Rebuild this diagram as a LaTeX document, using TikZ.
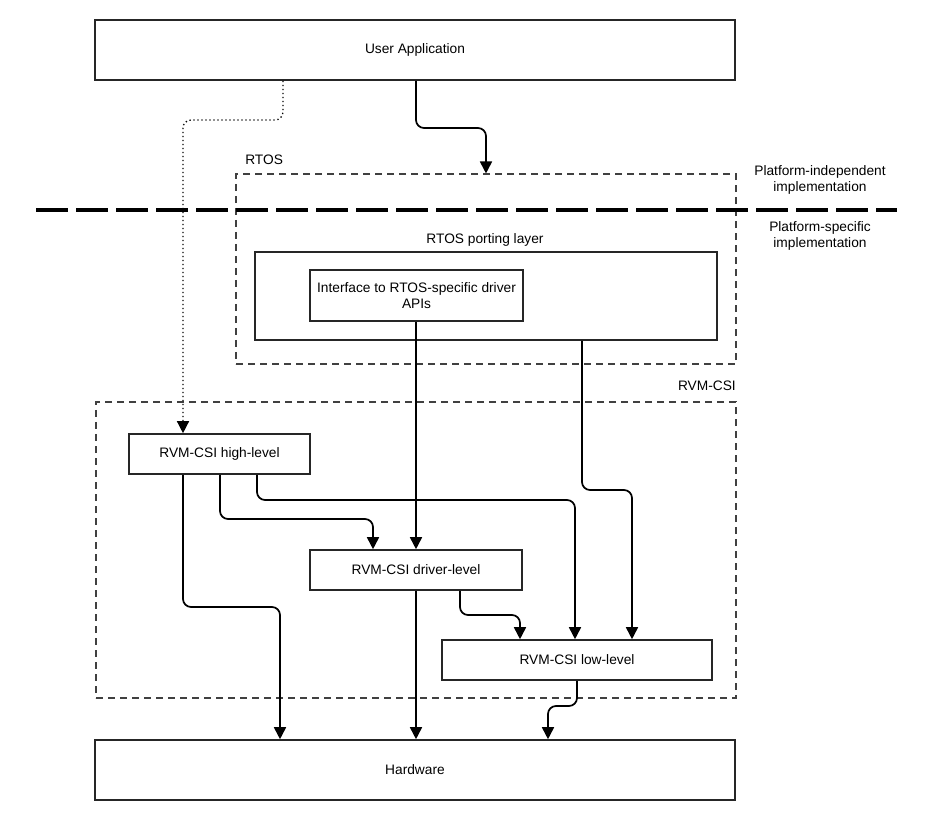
\documentclass[tikz,border=0pt]{standalone}
\usepackage{fontspec}
\setmainfont{Liberation Sans}
\usetikzlibrary{arrows.meta}
\begin{document}
\begin{tikzpicture}[x=0.75pt,y=-0.75pt,
  font=\fontsize{10.3}{12.3}\selectfont,
  box/.style={draw=black!85,line width=1.2pt,rectangle,inner sep=0pt,align=center},
  grp/.style={draw=black!75,line width=0.8pt,dash pattern=on 5pt off 4pt,rectangle,inner sep=0pt},
  conn/.style={line width=1.3pt,rounded corners=6pt,-{Triangle[width=9pt,length=9pt]}},
  lbl/.style={inner sep=0pt,align=center}]
\fill[white] (0,0) rectangle (932,820);
\useasboundingbox (0,0) rectangle (932,820);

% group boxes
\node[grp,minimum width=375pt,minimum height=142.5pt] (rtos) at (486,269) {};
\node[grp,minimum width=480pt,minimum height=222pt] (rvm) at (416,550) {};
\node[lbl,anchor=west] (rtoslbl) at (245,160) {RTOS};
\node[lbl,anchor=east] (rvmlbl) at (736,386) {RVM-CSI};

% platform separator
\coordinate (sepL) at (36,210);
\coordinate (sepR) at (897,210);
\draw[line width=3pt,dash pattern=on 24pt off 6pt] (sepL) -- (sepR);
\node[lbl] (pind) at (820,180) {Platform-independent\\implementation};
\node[lbl] (pspec) at (820,236) {Platform-specific\\implementation};

% boxes
\node[box,minimum width=480pt,minimum height=45pt] (ua) at (415,50) {User Application};
\node[lbl] (portlbl) at (485,240) {RTOS porting layer};
\node[box,minimum width=346.5pt,minimum height=66pt] (port) at (486,296) {};
\node[box,minimum width=159.75pt,minimum height=38.25pt] (intf) at (416.5,295.5) {Interface to RTOS-specific driver\\APIs};
\node[box,minimum width=135.75pt,minimum height=30pt] (high) at (219.5,454) {RVM-CSI high-level};
\node[box,minimum width=159pt,minimum height=30pt] (drv) at (416,570) {RVM-CSI driver-level};
\node[box,minimum width=202.5pt,minimum height=30pt] (low) at (577,660) {RVM-CSI low-level};
\node[box,minimum width=480pt,minimum height=45pt] (hw) at (415,770) {Hardware};

% x reference coordinates
\foreach \xx in {183,220,257,280,283,373,416,460,486,520,548,575,577,582,632}
  \coordinate (c\xx) at (\xx,0);

% connectors
\draw[line width=1pt,dotted,rounded corners=6pt,-{Triangle[width=9pt,length=9pt]}]
  (ua.south -| c283) -- (283,120) -- (183,120) -- (high.north -| c183);
\draw[conn] (ua.south -| c416) -- (416,128) -- (486,128) -- (rtos.north -| c486);
\draw[conn] (intf.south -| c416) -- (drv.north -| c416);
\draw[conn] (port.south -| c582) -- (582,490) -- (632,490) -- (low.north -| c632);
\draw[conn] (high.south -| c183) -- (183,607) -- (280,607) -- (hw.north -| c280);
\draw[conn] (high.south -| c220) -- (220,519) -- (373,519) -- (drv.north -| c373);
\draw[conn] (high.south -| c257) -- (257,500) -- (575,500) -- (low.north -| c575);
\draw[conn] (drv.south -| c416) -- (hw.north -| c416);
\draw[conn] (drv.south -| c460) -- (460,615) -- (520,615) -- (low.north -| c520);
\draw[conn] (low.south -| c577) -- (577,706) -- (548,706) -- (hw.north -| c548);
\end{tikzpicture}
\end{document}
